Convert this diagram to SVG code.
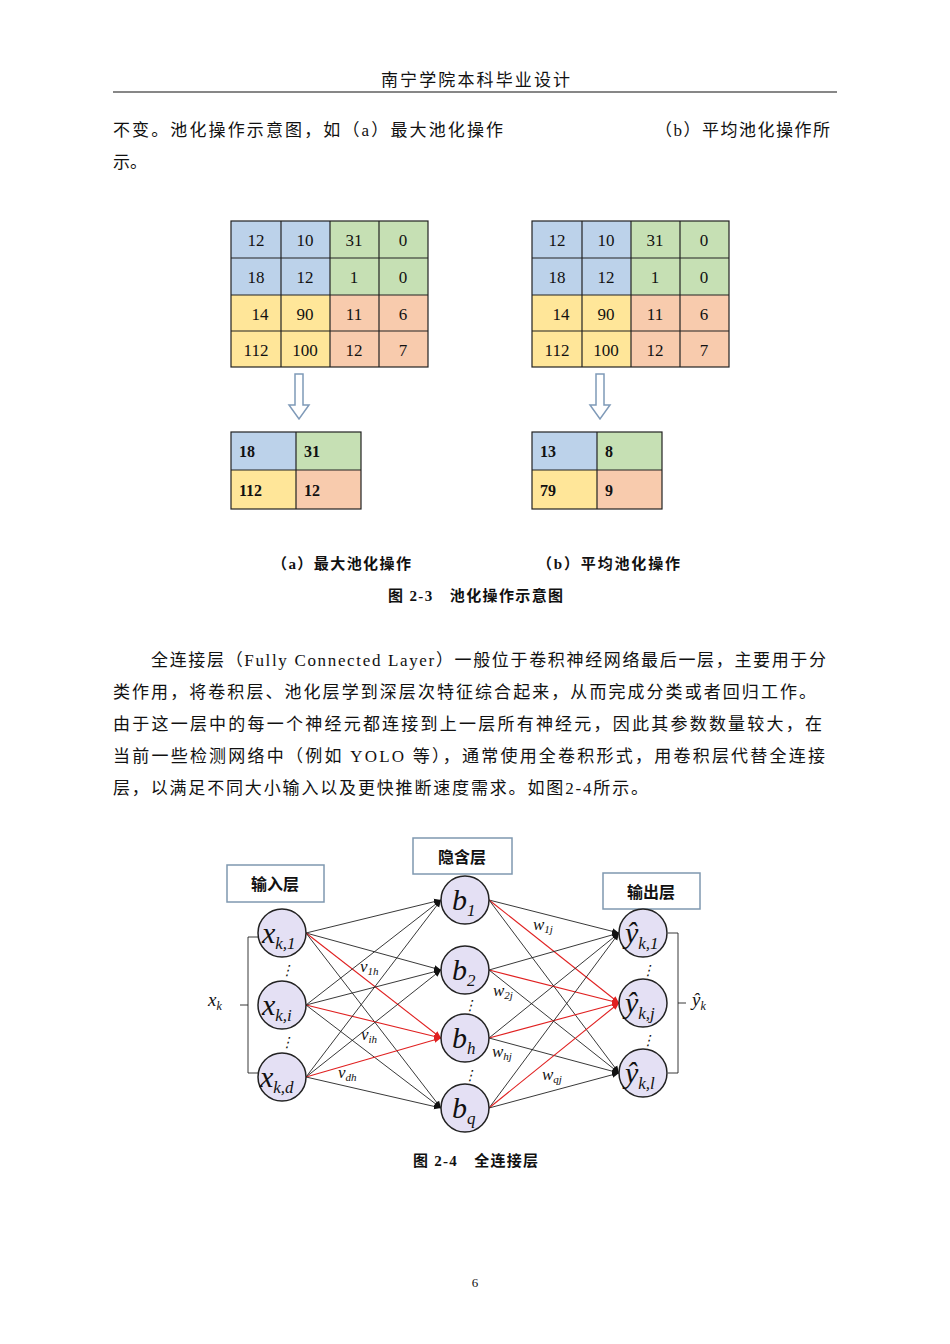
<svg xmlns="http://www.w3.org/2000/svg" width="950" height="1344" viewBox="0 0 950 1344">
<style>
.t{font-family:"Liberation Serif","Noto Sans CJK SC",serif;fill:#111}
.b{font-size:17px}
.c{font-size:17px;text-anchor:middle}
.s{font-size:16px;font-weight:bold}
.cap{font-size:15px;font-weight:bold}
.cl{stroke:#222;stroke-width:1.2}
.bl{fill:#bcd2ea}.gr{fill:#c6e0b4}.ye{fill:#ffe699}.or{fill:#f8cbad}
.n{fill:#e4e0f4;stroke:#222;stroke-width:1.5}
.e{stroke:#222;stroke-width:0.9;fill:none}
.r{stroke:#e02020;stroke-width:1.1;fill:none}
.m{font-family:"Liberation Serif",serif;font-style:italic;fill:#111}
.lb{fill:#fff;stroke:#7f98b0;stroke-width:1.5}
</style>
<defs>
<marker id="ak" markerWidth="8" markerHeight="8" refX="7" refY="4" orient="auto" markerUnits="userSpaceOnUse"><path d="M0,1 L7,4 L0,7z" fill="#111"/></marker>
<marker id="ar" markerWidth="8" markerHeight="8" refX="7" refY="4" orient="auto" markerUnits="userSpaceOnUse"><path d="M0,1 L7,4 L0,7z" fill="#e02020"/></marker>
</defs>
<rect width="950" height="1344" fill="#fff"/>
<text class="t b" x="381" y="86" textLength="189" lengthAdjust="spacing">南宁学院本科毕业设计</text>
<line x1="113" y1="92" x2="837" y2="92" stroke="#111" stroke-width="1.2"/>
<text class="t b" x="113" y="136" textLength="390" lengthAdjust="spacing">不变。池化操作示意图，如（a）最大池化操作</text>
<text class="t b" x="655" y="136" textLength="175" lengthAdjust="spacing">（b）平均池化操作所</text>
<text class="t b" x="113" y="168">示。</text>

<g id="tableA">
<rect class="bl" x="231" y="221" width="99" height="74"/><rect class="gr" x="330" y="221" width="98" height="74"/>
<rect class="ye" x="231" y="295" width="99" height="72"/><rect class="or" x="330" y="295" width="98" height="72"/>
<g class="cl"><rect x="231" y="221" width="197" height="146" fill="none"/>
<line x1="281" y1="221" x2="281" y2="367"/><line x1="330" y1="221" x2="330" y2="367"/><line x1="379" y1="221" x2="379" y2="367"/>
<line x1="231" y1="258" x2="428" y2="258"/><line x1="231" y1="295" x2="428" y2="295"/><line x1="231" y1="331" x2="428" y2="331"/></g>
<g class="t c"><text x="256" y="246">12</text><text x="305" y="246">10</text><text x="354" y="246">31</text><text x="403" y="246">0</text>
<text x="256" y="283">18</text><text x="305" y="283">12</text><text x="354" y="283">1</text><text x="403" y="283">0</text>
<text x="260" y="320">14</text><text x="305" y="320">90</text><text x="354" y="320">11</text><text x="403" y="320">6</text>
<text x="256" y="356">112</text><text x="305" y="356">100</text><text x="354" y="356">12</text><text x="403" y="356">7</text></g>
</g>
<g id="tableB">
<rect class="bl" x="532" y="221" width="99" height="74"/><rect class="gr" x="631" y="221" width="98" height="74"/>
<rect class="ye" x="532" y="295" width="99" height="72"/><rect class="or" x="631" y="295" width="98" height="72"/>
<g class="cl"><rect x="532" y="221" width="197" height="146" fill="none"/>
<line x1="582" y1="221" x2="582" y2="367"/><line x1="631" y1="221" x2="631" y2="367"/><line x1="680" y1="221" x2="680" y2="367"/>
<line x1="532" y1="258" x2="729" y2="258"/><line x1="532" y1="295" x2="729" y2="295"/><line x1="532" y1="331" x2="729" y2="331"/></g>
<g class="t c"><text x="557" y="246">12</text><text x="606" y="246">10</text><text x="655" y="246">31</text><text x="704" y="246">0</text>
<text x="557" y="283">18</text><text x="606" y="283">12</text><text x="655" y="283">1</text><text x="704" y="283">0</text>
<text x="561" y="320">14</text><text x="606" y="320">90</text><text x="655" y="320">11</text><text x="704" y="320">6</text>
<text x="557" y="356">112</text><text x="606" y="356">100</text><text x="655" y="356">12</text><text x="704" y="356">7</text></g>
</g>
<g id="arrows" fill="#fff" stroke="#7f9ab8" stroke-width="1.5">
<path d="M295,374 H303 V405 H309 L299,419 L289,405 H295z"/>
<path d="M596,374 H604 V405 H610 L600,419 L590,405 H596z"/>
</g>
<g id="smallA">
<rect class="bl" x="231" y="432" width="65" height="38"/><rect class="gr" x="296" y="432" width="65" height="38"/>
<rect class="ye" x="231" y="470" width="65" height="39"/><rect class="or" x="296" y="470" width="65" height="39"/>
<g class="cl" fill="none"><rect x="231" y="432" width="130" height="77"/><line x1="296" y1="432" x2="296" y2="509"/><line x1="231" y1="470" x2="361" y2="470"/></g>
<g class="t s"><text x="239" y="457">18</text><text x="304" y="457">31</text><text x="239" y="496">112</text><text x="304" y="496">12</text></g>
</g>
<g id="smallB">
<rect class="bl" x="532" y="432" width="65" height="38"/><rect class="gr" x="597" y="432" width="65" height="38"/>
<rect class="ye" x="532" y="470" width="65" height="39"/><rect class="or" x="597" y="470" width="65" height="39"/>
<g class="cl" fill="none"><rect x="532" y="432" width="130" height="77"/><line x1="597" y1="432" x2="597" y2="509"/><line x1="532" y1="470" x2="662" y2="470"/></g>
<g class="t s"><text x="540" y="457">13</text><text x="605" y="457">8</text><text x="540" y="496">79</text><text x="605" y="496">9</text></g>
</g>
<text class="t cap" x="272" y="569" textLength="139" lengthAdjust="spacing">（a）最大池化操作</text>
<text class="t cap" x="537" y="569" textLength="143" lengthAdjust="spacing">（b）平均池化操作</text>
<text class="t cap" x="388" y="601" textLength="175" lengthAdjust="spacing">图 2-3　池化操作示意图</text>

<g class="t b">
<text x="151" y="666" textLength="675" lengthAdjust="spacing">全连接层（Fully Connected Layer）一般位于卷积神经网络最后一层，主要用于分</text>
<text x="113" y="698" textLength="703" lengthAdjust="spacing">类作用，将卷积层、池化层学到深层次特征综合起来，从而完成分类或者回归工作。</text>
<text x="113" y="730" textLength="709" lengthAdjust="spacing">由于这一层中的每一个神经元都连接到上一层所有神经元，因此其参数数量较大，在</text>
<text x="113" y="762" textLength="712" lengthAdjust="spacing">当前一些检测网络中（例如 YOLO 等），通常使用全卷积形式，用卷积层代替全连接</text>
<text x="113" y="794" textLength="535" lengthAdjust="spacing">层，以满足不同大小输入以及更快推断速度需求。如图2-4所示。</text>
</g>

<g id="connectors">
<line class="e" x1="306" y1="933" x2="441" y2="900" marker-end="url(#ak)"/>
<line class="e" x1="306" y1="933" x2="441" y2="970" marker-end="url(#ak)"/>
<line class="r" x1="306" y1="933" x2="441" y2="1038" marker-end="url(#ar)"/>
<line class="e" x1="306" y1="933" x2="441" y2="1108" marker-end="url(#ak)"/>
<line class="e" x1="306" y1="1005" x2="441" y2="900" marker-end="url(#ak)"/>
<line class="e" x1="306" y1="1005" x2="441" y2="970" marker-end="url(#ak)"/>
<line class="r" x1="306" y1="1005" x2="441" y2="1038" marker-end="url(#ar)"/>
<line class="e" x1="306" y1="1005" x2="441" y2="1108" marker-end="url(#ak)"/>
<line class="e" x1="306" y1="1077" x2="441" y2="900" marker-end="url(#ak)"/>
<line class="e" x1="306" y1="1077" x2="441" y2="970" marker-end="url(#ak)"/>
<line class="r" x1="306" y1="1077" x2="441" y2="1038" marker-end="url(#ar)"/>
<line class="e" x1="306" y1="1077" x2="441" y2="1108" marker-end="url(#ak)"/>
<line class="e" x1="489" y1="900" x2="619" y2="933" marker-end="url(#ak)"/>
<line class="r" x1="489" y1="900" x2="619" y2="1003" marker-end="url(#ar)"/>
<line class="e" x1="489" y1="900" x2="619" y2="1073" marker-end="url(#ak)"/>
<line class="e" x1="489" y1="970" x2="619" y2="933" marker-end="url(#ak)"/>
<line class="r" x1="489" y1="970" x2="619" y2="1003" marker-end="url(#ar)"/>
<line class="e" x1="489" y1="970" x2="619" y2="1073" marker-end="url(#ak)"/>
<line class="e" x1="489" y1="1038" x2="619" y2="933" marker-end="url(#ak)"/>
<line class="r" x1="489" y1="1038" x2="619" y2="1003" marker-end="url(#ar)"/>
<line class="e" x1="489" y1="1038" x2="619" y2="1073" marker-end="url(#ak)"/>
<line class="e" x1="489" y1="1108" x2="619" y2="933" marker-end="url(#ak)"/>
<line class="r" x1="489" y1="1108" x2="619" y2="1003" marker-end="url(#ar)"/>
<line class="e" x1="489" y1="1108" x2="619" y2="1073" marker-end="url(#ak)"/>
<path class="e" d="M258,937 H248 V1073 H258 M248,1005 H240" stroke-width="1.3"/>
<path class="e" d="M668,933 H678 V1073 H668 M678,1003 H686" stroke-width="1.3"/>
</g>

<g id="labels">
<rect class="lb" x="227" y="865" width="97" height="37"/><text class="t s" x="275" y="890" text-anchor="middle">输入层</text>
<rect class="lb" x="413" y="838" width="99" height="36"/><text class="t s" x="462" y="863" text-anchor="middle">隐含层</text>
<rect class="lb" x="603" y="873" width="97" height="36"/><text class="t s" x="651" y="898" text-anchor="middle">输出层</text>
</g>
<g id="xnodes">
<circle class="n" cx="282" cy="933" r="24"/><text class="m" x="262" y="943" font-size="30">x<tspan font-size="17" dy="6">k,1</tspan></text>
<circle class="n" cx="282" cy="1005" r="24"/><text class="m" x="262" y="1015" font-size="30">x<tspan font-size="17" dy="6">k,i</tspan></text>
<circle class="n" cx="282" cy="1077" r="24"/><text class="m" x="260" y="1087" font-size="30">x<tspan font-size="17" dy="6">k,d</tspan></text>
</g>
<g id="bnodes">
<circle class="n" cx="465" cy="900" r="24"/><text class="m" x="452" y="910" font-size="30">b<tspan font-size="17" dy="6">1</tspan></text>
<circle class="n" cx="465" cy="970" r="24"/><text class="m" x="452" y="980" font-size="30">b<tspan font-size="17" dy="6">2</tspan></text>
<circle class="n" cx="465" cy="1038" r="24"/><text class="m" x="452" y="1048" font-size="30">b<tspan font-size="17" dy="6">h</tspan></text>
<circle class="n" cx="465" cy="1108" r="24"/><text class="m" x="452" y="1118" font-size="30">b<tspan font-size="17" dy="6">q</tspan></text>
</g>
<g id="ynodes">
<circle class="n" cx="643" cy="933" r="24"/><text class="m" x="625" y="943" font-size="30">ŷ<tspan font-size="17" dy="6">k,1</tspan></text>
<circle class="n" cx="643" cy="1003" r="24"/><text class="m" x="625" y="1013" font-size="30">ŷ<tspan font-size="17" dy="6">k,j</tspan></text>
<circle class="n" cx="643" cy="1073" r="24"/><text class="m" x="625" y="1083" font-size="30">ŷ<tspan font-size="17" dy="6">k,l</tspan></text>
</g>
<g id="dots" fill="#333">
<text class="m" x="280" y="975" font-size="14">⋮</text><text class="m" x="280" y="1047" font-size="14">⋮</text>
<text class="m" x="463" y="1010" font-size="14">⋮</text><text class="m" x="463" y="1080" font-size="14">⋮</text>
<text class="m" x="641" y="975" font-size="14">⋮</text><text class="m" x="641" y="1045" font-size="14">⋮</text>
</g>
<g id="weights" font-size="17">
<text class="m" x="208" y="1006" font-size="19">x<tspan font-size="12" dy="4">k</tspan></text>
<text class="m" x="692" y="1006" font-size="19">ŷ<tspan font-size="12" dy="4">k</tspan></text>
<text class="m" x="360" y="972">v<tspan font-size="11" dy="3">1h</tspan></text>
<text class="m" x="361" y="1040">v<tspan font-size="11" dy="3">ih</tspan></text>
<text class="m" x="338" y="1078">v<tspan font-size="11" dy="3">dh</tspan></text>
<text class="m" x="533" y="930">w<tspan font-size="11" dy="3">1j</tspan></text>
<text class="m" x="493" y="996">w<tspan font-size="11" dy="3">2j</tspan></text>
<text class="m" x="492" y="1057">w<tspan font-size="11" dy="3">hj</tspan></text>
<text class="m" x="542" y="1080">w<tspan font-size="11" dy="3">qj</tspan></text>
</g>
<text class="t cap" x="413" y="1166" textLength="125" lengthAdjust="spacing">图 2-4　全连接层</text>
<text class="t" x="475" y="1287" font-size="13" text-anchor="middle">6</text>
</svg>
